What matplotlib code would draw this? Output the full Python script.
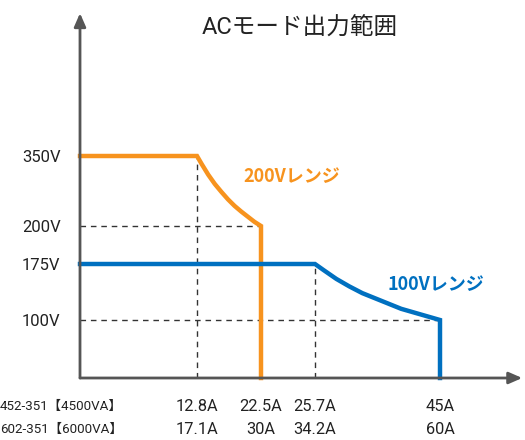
import numpy as np
import matplotlib
matplotlib.use("Agg")
import matplotlib.pyplot as plt
from matplotlib.transforms import blended_transform_factory

plt.rcParams['font.family'] = ['Roboto', 'Noto Sans CJK JP', 'DejaVu Sans']

# ---- data ----
title = "ACモード出力範囲"
volt_ticks = [100, 175, 200, 350]
volt_labels = ["100V", "175V", "200V", "350V"]
cur_ticks = [12.8, 22.5, 25.7, 45]
cur_labels_4500 = ["12.8A", "22.5A", "25.7A", "45A"]
cur_labels_6000 = ["17.1A", "30A", "34.2A", "60A"]
row_labels = ["452-351【4500VA】", "602-351【6000VA】"]

range200_I = [0, 12.8, 13.5, 14.5, 15.5, 16.5, 17.5, 18.5, 19.5, 20.5, 21.5, 22.5, 22.5]
range200_V = [350, 350, 333, 310, 290, 273, 257, 243, 231, 220, 209, 200, 0]
range100_I = [0, 25.7, 27, 29, 31, 33, 35, 37, 39, 41, 43, 45, 45]
range100_V = [175, 175, 167, 155, 145, 136, 129, 122, 115, 110, 105, 100, 0]
label200 = "200Vレンジ"
label100 = "100Vレンジ"

# schematic (non-linear) axis mapping
x_knots = [0, 12.8, 22.5, 25.7, 45, 60]
x_pos = [0, 117, 181, 235, 360, 440]
y_knots = [0, 100, 175, 200, 350, 450]
y_pos = [0, 58, 114, 152, 222, 363]

orange = "#F7931E"
blue = "#0070C0"
grey = "#333333"

fig = plt.figure(figsize=(5.25, 4.4), dpi=100)
ax = fig.add_axes([80/525, 62/440, 440/525, 363/440])
ax.set_xscale('function', functions=(lambda v: np.interp(v, x_knots, x_pos),
                                     lambda p: np.interp(p, x_pos, x_knots)))
ax.set_yscale('function', functions=(lambda v: np.interp(v, y_knots, y_pos),
                                     lambda p: np.interp(p, y_pos, y_knots)))
ax.set_xlim(0, 60)
ax.set_ylim(0, 450)
for s in ax.spines.values():
    s.set_visible(False)

# dashed guides
dash = dict(color=grey, lw=1, ls=(0, (4, 3.5)), zorder=1)
ax.plot([12.8, 12.8], [0, 350], **dash)
ax.plot([25.7, 25.7], [0, 175], **dash)
ax.plot([0, 22.5], [200, 200], **dash)
ax.plot([0, 45], [100, 100], **dash)

ax.plot(range200_I, range200_V, color=orange, lw=3.2, zorder=3,
        solid_joinstyle='miter', clip_on=False)
ax.plot(range100_I, range100_V, color=blue, lw=3.2, zorder=4,
        solid_joinstyle='miter', clip_on=False)

ax.text(24.3, 305, label200, color=orange, fontsize=13, fontweight='bold',
        ha='center', va='center', family=['Noto Sans CJK JP'])
ax.text(44.4, 148, label100, color=blue, fontsize=13, fontweight='bold',
        ha='center', va='center', family=['Noto Sans CJK JP'])

# axes with arrows
ax.annotate("", xy=(0, 1.005), xytext=(0, 0), xycoords='axes fraction',
            arrowprops=dict(arrowstyle='-|>,head_length=0.8,head_width=0.35',
                            color='#555555', lw=2, shrinkA=0, shrinkB=0), zorder=5)
ax.annotate("", xy=(1.005, 0), xytext=(0, 0), xycoords='axes fraction',
            arrowprops=dict(arrowstyle='-|>,head_length=0.8,head_width=0.35',
                            color='#555555', lw=2, shrinkA=0, shrinkB=0), zorder=5)

ax.set_yticks(volt_ticks)
ax.set_yticklabels(volt_labels, fontsize=12, color='#222222')
ax.tick_params(axis='y', length=0, pad=14)
ax.set_xticks([])

tr = blended_transform_factory(ax.transData, fig.transFigure)
for x, a, b in zip(cur_ticks, cur_labels_4500, cur_labels_6000):
    ax.text(x, 1 - 406/440, a, transform=tr, ha='center', va='center',
            fontsize=11.8, color='#222222')
    ax.text(x, 1 - 429/440, b, transform=tr, ha='center', va='center',
            fontsize=11.8, color='#222222')
fig.text(0, 1 - 406/440, row_labels[0], ha='left', va='center',
         fontsize=9.6, color='#222222', family=['Roboto', 'Noto Sans CJK JP'])
fig.text(0, 1 - 429/440, row_labels[1], ha='left', va='center',
         fontsize=9.6, color='#222222', family=['Roboto', 'Noto Sans CJK JP'])

fig.text(300/525, 1 - 28/440, title, ha='center', va='center', fontsize=17,
         color='#222222', family=['Roboto', 'Noto Sans CJK JP'])

fig.savefig("out.png", dpi=100)
